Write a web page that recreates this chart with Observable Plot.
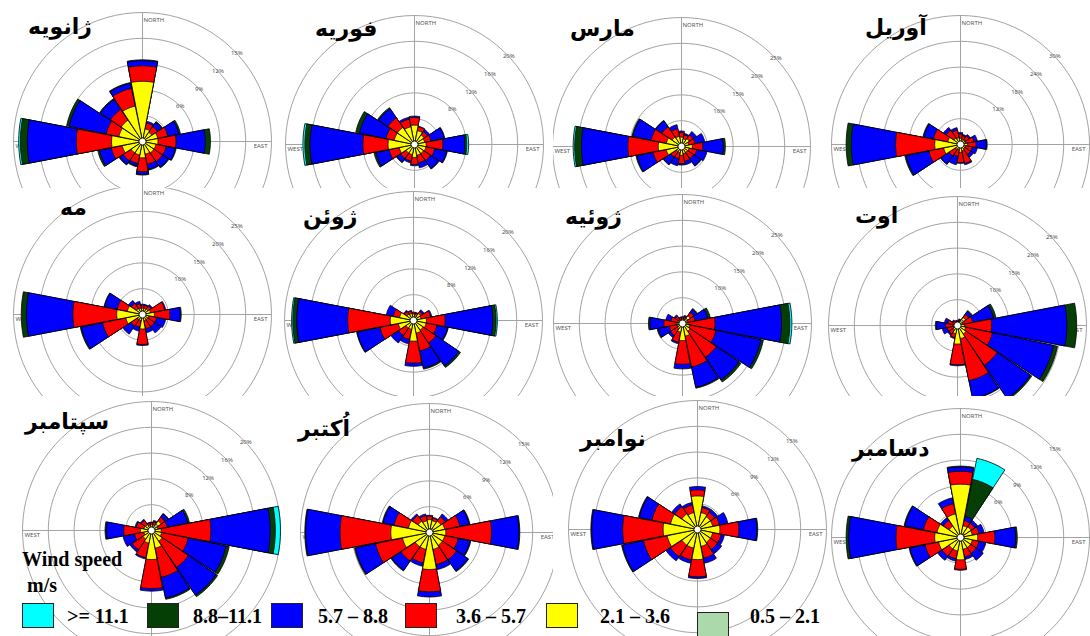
<!DOCTYPE html>
<html><head><meta charset="utf-8">
<script src="https://cdn.jsdelivr.net/npm/d3@7"></script>
<script src="https://cdn.jsdelivr.net/npm/@observablehq/plot@0.6"></script>
<style>
body{margin:0;background:#fff;}
#fig{position:relative;width:1090px;height:636px;overflow:hidden;background:#fff;}
.panel{position:absolute;overflow:hidden;}
.panel svg{position:absolute;max-width:none;}
.title{position:absolute;font-family:"DejaVu Sans",sans-serif;font-weight:bold;font-size:22px;line-height:1;direction:rtl;white-space:nowrap;color:#000;}
.leg{position:absolute;font-family:"Liberation Serif",serif;font-weight:bold;font-size:20px;line-height:1;white-space:nowrap;color:#000;}
.box{position:absolute;border:1.5px solid #222;box-sizing:border-box;}
</style></head><body><div id="fig"></div>
<script>
// ---------------- data ----------------
const months = ["ژانویه","فوریه","مارس","آوریل","مه","ژوئن","ژوئیه","اوت","سپتامبر","اُکتبر","نوامبر","دسامبر"];
const ringSteps = [3,4,5,6,5,4,5,5,4,3,3,3];          // % per ring
const directions = ["N","NNE","NE","ENE","E","ESE","SE","SSE","S","SSW","SW","WSW","W","WNW","NW","NNW"];
const speedBins = ["0.5 – 2.1","2.1 – 3.6","3.6 – 5.7","5.7 – 8.8","8.8–11.1",">= 11.1"];
const compass = ["NORTH","EAST","WEST"];
// frequency (%) per direction (N clockwise) per speed bin
const jan = [[0.3,6.7,1.8,0.6,0.1,0],[0.2,1.3,0.7,0.2,0,0],[0.3,1.0,0.8,0.6,0.1,0],[0.2,1.6,1.2,1.3,0.2,0],
  [0.2,1.6,2.1,3.4,0.6,0],[0.2,1.4,1.2,1.1,0.1,0],[0.2,1.4,1.2,0.8,0.1,0],[0.2,1.3,1.2,0.6,0.1,0],
  [0.2,1.7,1.6,0.3,0.1,0],[0.2,1.4,1.0,0.3,0.1,0],[0.2,1.4,1.1,0.5,0.1,0],[0.2,2.2,1.3,1.4,0.2,0],
  [0.4,3.2,4.1,5.7,0.8,0.2],[0.2,2.6,1.5,4.4,0.3,0],[0.2,2.8,1.5,1.4,0.1,0],[0.2,4.0,2.1,0.6,0.1,0]];
const feb = [[0.2,2.8,1.2,0.2,0,0],[0.2,2.0,0.6,0.1,0,0],[0.4,1.4,0.6,0.4,0,0],[0.2,1.4,1.0,2.1,0.1,0],
  [0.2,1.6,2.6,3.4,0.3,0.3],[0.2,1.6,1.4,1.9,0.1,0],[0.2,1.5,1.3,1.5,0.1,0],[0.2,1.5,1.2,0.8,0,0],
  [0.2,1.8,1.1,0.2,0,0],[0.2,1.4,1.0,0.3,0,0],[0.2,1.4,1.0,0.7,0.1,0],[0.2,2.2,1.6,2.1,0.3,0],
  [0.3,3.8,3.9,8.2,0.8,0.3],[0.2,3.0,1.3,4.2,0.6,0],[0.2,3.0,1.8,1.7,0.2,0],[0.2,2.6,1.2,0.3,0,0]];
const mar = [[0.2,1.6,0.9,0.3,0,0],[0.2,1.3,0.8,0.3,0,0],[0.6,1.2,0.9,0.8,0,0],[0.2,1.2,1.3,1.9,0,0],
  [0.2,1.9,2.0,4.0,0.4,0],[0.2,1.3,1.5,2.0,0,0],[0.2,1.2,1.4,1.7,0.1,0],[0.2,1.2,1.5,0.7,0,0],
  [0.2,1.5,1.6,0.3,0,0],[0.2,1.0,1.2,1.4,0,0],[0.2,1.0,1.3,1.7,0.1,0],[0.2,2.8,2.6,3.2,0.2,0],
  [0.3,4.2,5.9,9.0,1.3,0.3],[0.2,2.8,3.0,3.6,0.2,0],[0.2,2.0,2.4,1.4,0.1,0],[0.2,1.8,1.5,0.8,0,0]];
const apr = [[0.2,1.2,1.0,0.4,0,0],[0.2,1.0,0.9,0.3,0,0],[0.4,0.9,1.1,0.4,0,0],[0.2,1.0,2.0,0.8,0,0],
  [0.2,1.4,2.0,2.4,0.2,0],[0.2,1.0,1.6,1.2,0,0],[0.2,1.0,1.6,0.8,0,0],[0.2,1.3,3.0,0.3,0,0],
  [0.2,1.6,2.4,0.2,0,0],[0.2,1.0,1.6,2.0,0,0],[0.2,1.2,1.8,2.3,0.1,0],[0.2,3.8,3.5,5.4,0.3,0],
  [0.3,5.7,9.1,10.3,1.2,0],[0.2,2.8,3.4,2.3,0.2,0],[0.2,1.6,2.2,0.8,0,0],[0.2,1.4,1.8,0.6,0,0]];
const may = [[0.2,1.0,0.6,0.2,0,0],[0.2,1.0,0.6,0.2,0,0],[0.4,0.9,0.7,0.3,0,0],[0.2,1.4,2.8,0.2,0,0],
  [0.2,2.1,3.0,2.0,0.2,0],[0.2,1.0,1.6,1.8,0,0],[0.2,1.0,1.6,1.5,0,0],[0.2,1.0,1.6,0.8,0,0],
  [0.2,2.6,3.0,0.2,0,0],[0.2,1.0,1.3,0.8,0,0],[0.2,1.0,1.5,1.9,0,0],[0.2,3.1,4.6,4.2,0.2,0],
  [0.3,4.7,8.5,9.0,1.0,0],[0.2,2.8,2.0,2.5,0.1,0],[0.2,1.2,1.2,0.7,0,0],[0.2,1.0,0.9,0.5,0,0]];
const jun = [[0.2,0.8,0.3,0,0,0],[0.2,0.7,0.3,0.1,0,0],[0.8,0.5,0.4,0.3,0,0],[0.2,1.0,1.5,0.2,0,0],
  [0.2,1.8,2.9,7.4,0.5,0.2],[0.2,1.8,1.7,1.7,0.1,0],[0.2,1.6,2.4,4.3,0.3,0],[0.2,1.8,2.8,2.7,0.2,0],
  [0.2,3.0,3.4,0.5,0,0],[0.2,1.2,1.6,0.7,0,0],[0.2,1.2,1.4,1.4,0,0],[0.2,2.2,2.9,3.6,0.1,0],
  [0.3,3.3,6.6,7.9,0.6,0.2],[0.2,2.0,1.0,1.1,0,0],[0.2,1.0,0.5,0.2,0,0],[0.2,0.9,0.4,0.1,0,0]];
const jul = [[0.2,0.7,0.3,0.1,0,0],[0.2,0.6,0.5,0.3,0,0],[1.2,0.6,0.8,0.7,0.2,0],[0.2,0.8,1.5,2.5,0.5,0],
  [0.2,0.8,5.3,12.9,1.6,0.4],[0.2,1.2,5.2,8.9,0.5,0],[0.2,1.6,6.1,5.3,0.5,0],[0.2,2.3,6.1,4.0,0.2,0],
  [0.2,3.1,4.6,0.9,0,0],[0.2,1.5,2.0,0.3,0,0],[0.2,1.0,1.6,0.5,0,0],[0.2,0.8,1.6,2.2,0.2,0],
  [0.2,0.8,2.6,2.7,0.3,0],[0.2,0.7,1.4,1.0,0,0],[0.2,0.6,0.9,0.3,0,0],[0.2,0.5,0.5,0.1,0,0]];
const aug = [[0.2,0.5,0.3,0,0,0],[0.2,0.5,0.4,0.2,0,0],[1.4,0.5,0.7,0.7,0.2,0],[0.2,0.8,2.0,4.1,0.5,0],
  [0.2,1.1,5.3,14.6,1.9,0],[0.2,1.4,5.3,12.1,0.8,0],[0.2,1.8,7.3,7.8,0.3,0],[0.2,2.4,8.3,3.6,0.1,0],
  [0.2,3.4,4.0,0.2,0,0],[0.2,1.4,0.8,0.2,0,0],[0.2,0.8,1.0,0.3,0,0],[0.2,0.6,1.2,1.0,0,0],
  [0.2,0.6,1.5,1.8,0.2,0],[0.2,0.5,1.2,0.7,0,0],[0.2,0.4,0.5,0.2,0,0],[0.2,0.4,0.3,0.1,0,0]];
const sep = [[0.2,0.7,0.3,0.1,0,0],[0.2,0.7,0.5,0.2,0,0],[1.2,0.6,0.7,0.6,0.1,0],[0.2,0.8,1.5,3.2,0.3,0],
  [0.2,1.3,7.7,9.2,0.8,0.8],[0.2,1.4,4.2,6.0,0.5,0],[0.2,1.8,4.9,5.2,0.3,0],[0.2,2.6,4.6,3.3,0.2,0],
  [0.2,4.3,4.5,0.4,0,0],[0.2,1.8,2.3,0.2,0,0],[0.2,1.4,2.0,0.4,0,0],[0.2,1.0,1.5,1.8,0,0],
  [0.2,1.5,2.6,2.7,0.2,0],[0.2,1.0,1.2,0.2,0,0],[0.2,0.9,0.8,0.2,0,0],[0.2,0.6,0.4,0.1,0,0]];
const oct = [[0.2,1.3,0.4,0.1,0,0],[0.2,1.2,0.3,0.1,0,0],[0.6,1.0,0.6,0.4,0,0],[0.2,1.6,1.8,1.1,0.1,0],
  [0.2,1.7,5.3,3.2,0.1,0],[0.2,1.6,1.6,1.4,0.1,0],[0.2,1.6,2.0,1.6,0.1,0],[0.2,1.8,1.8,0.6,0,0],
  [0.2,4.1,2.6,0.6,0,0],[0.2,1.8,1.6,0.4,0,0],[0.2,1.8,2.0,1.3,0.1,0],[0.2,3.0,3.2,2.4,0.1,0],
  [0.2,4.3,5.9,4.0,0.1,0],[0.2,2.3,1.7,1.3,0.1,0],[0.2,1.4,0.8,0.2,0,0],[0.2,1.2,0.6,0.2,0,0]];
const nov = [[0.2,3.7,0.7,0.4,0,0],[0.2,1.8,0.6,0.2,0,0],[0.4,1.4,0.6,0.4,0,0],[0.2,1.6,0.8,1.0,0,0],
  [0.2,2.4,2.2,2.1,0.1,0],[0.2,1.6,1.0,0.4,0,0],[0.2,1.6,1.0,0.6,0,0],[0.2,1.8,1.4,0.6,0,0],
  [0.2,3.3,2.0,0.2,0,0],[0.2,2.0,1.4,0.4,0,0],[0.2,2.0,1.6,0.6,0,0],[0.2,3.4,2.8,2.5,0.1,0],
  [0.2,3.8,4.7,3.6,0.1,0],[0.2,3.0,2.2,1.5,0.1,0],[0.2,2.0,1.0,0.4,0,0],[0.2,1.8,0.9,0.3,0,0]];
const dec = [[0.2,6.0,1.5,0.5,0.1,0],[0.2,1.2,0.6,0.5,4.4,2.5],[0.5,1.0,0.5,0.4,0,0],[0.4,1.0,0.8,0.6,0,0],
  [0.2,1.8,2.0,2.4,0.2,0],[0.2,1.2,0.8,0.8,0,0],[0.2,1.2,0.8,1.0,0,0],[0.2,1.2,0.9,0.3,0,0],
  [0.2,2.4,1.1,0.1,0,0],[0.2,1.4,0.9,0.3,0,0],[0.2,1.4,1.0,0.6,0,0],[0.2,2.4,1.6,1.8,0.1,0],
  [0.2,2.8,4.5,5.5,0.3,0],[0.2,2.6,1.6,2.2,0.1,0],[0.2,1.4,0.8,0.4,0,0],[0.2,2.6,1.2,0.7,0,0]];
const monthData = [jan,feb,mar,apr,may,jun,jul,aug,sep,oct,nov,dec];

// ---------------- styles & layout ----------------
const binColors = ["#acd9ac","#ffff00","#ff0000","#0000ff","#063f06","#00ffff"];
const centers = [[142,141],[414,144],[681,146],[960,144],[142,314],[413,320],[682,323],[957,325],[151,530],[429,532],[697,529],[960,537]];
const colEdges = [0,282,553,828,1090];
const rowEdges = [0,188,396,636];
const titlePos = [[28,16],[315,18],[570,18],[865,17],[60,197],[303,206],[565,206],[855,205],[25,411],[298,418],[580,428],[852,438]];
const ringPx = 25.8, S = 272;

const fig = document.getElementById("fig");
const deg = Math.PI/180;
const half = S/2/ringPx;

function sector(dirIdx, r, id){
  const th = dirIdx*22.5, pts=[{id,x:0,y:0}];
  for(let i=0;i<=8;i++){const a=(th-10.8+21.6*i/8)*deg; pts.push({id,x:r*Math.sin(a),y:r*Math.cos(a)});}
  pts.push({id,x:0,y:0});
  return pts;
}

monthData.forEach((md, m) => {
  const step = ringSteps[m];
  const [cx, cy] = centers[m];
  const col = m%4, row = Math.floor(m/4);
  const x0 = colEdges[col], x1 = colEdges[col+1], y0 = rowEdges[row], y1 = rowEdges[row+1];

  const rings = [];
  for(let k=1;k<=5;k++) for(let a=0;a<=360;a+=4) rings.push({ring:k,x:k*Math.sin(a*deg),y:k*Math.cos(a*deg)});
  const ringLabels = [2,3,4,5].map(k => ({k, label: (k*step)+"%", x:k*Math.sin(47*deg), y:k*Math.cos(47*deg)}));
  const comp = [
    {t:compass[0],x:0,y:5,anchor:"start",dx:1,dy:8},
    {t:compass[1],x:5,y:0,anchor:"end",dx:-4,dy:5},
    {t:compass[2],x:-5,y:0,anchor:"start",dx:2,dy:5}];

  const marks = [
    Plot.line(rings,{x:"x",y:"y",z:"ring",stroke:"#a3a3a3",strokeWidth:1}),
    Plot.ruleX([0],{y1:-5,y2:5,stroke:"#a3a3a3"}),
    Plot.ruleY([0],{x1:-5,x2:5,stroke:"#a3a3a3"}),
    Plot.text(ringLabels,{x:"x",y:"y",text:"label",fontSize:6,fill:"#555"}),
    ...comp.map(c => Plot.text([c],{x:"x",y:"y",text:"t",textAnchor:c.anchor,dx:c.dx,dy:c.dy,fontSize:6,fill:"#555"}))
  ];
  for(let k=5;k>=0;k--){
    const pts = [];
    md.forEach((row, d) => {
      if(row[k] <= 0) return;
      const cum = d3.sum(row.slice(0,k+1));
      pts.push(...sector(d, cum/step, d));
    });
    marks.push(Plot.line(pts,{x:"x",y:"y",z:"id",fill:binColors[k],stroke:"#000",strokeWidth:0.8,strokeLinejoin:"miter"}));
  }
  marks.push(Plot.dot([{x:0,y:0}],{x:"x",y:"y",r:3.5,fill:"white",stroke:"#000",strokeWidth:0.8}));

  const svg = Plot.plot({width:S,height:S,margin:0,
    x:{domain:[-half,half],axis:null}, y:{domain:[-half,half],axis:null}, marks});
  svg.style.maxWidth = "none";
  const wrap = document.createElement("div");
  wrap.className = "panel";
  Object.assign(wrap.style,{left:x0+"px",top:y0+"px",width:(x1-x0)+"px",height:(y1-y0)+"px"});
  svg.style.left = (cx - S/2 - x0)+"px";
  svg.style.top = (cy - S/2 - y0)+"px";
  wrap.appendChild(svg);
  fig.appendChild(wrap);

  const t = document.createElement("div");
  t.className = "title";
  t.textContent = months[m];
  t.style.left = titlePos[m][0]+"px"; t.style.top = titlePos[m][1]+"px";
  fig.appendChild(t);
});

// ---------------- legend ----------------
function addText(txt, left, top){const d=document.createElement("div");d.className="leg";d.textContent=txt;d.style.left=left+"px";d.style.top=top+"px";fig.appendChild(d);}
addText("Wind speed", 22, 549);
addText("m/s", 27, 575);
const legOrder = [5,4,3,2,1,0];
const boxX = [22,147,271,405,546,697];
const txtX = [67,193,318,456,600,750];
const boxY = [603,603,603,603,603,612];
legOrder.forEach((k,i) => {
  const b = document.createElement("div");
  b.className = "box";
  Object.assign(b.style,{left:boxX[i]+"px",top:boxY[i]+"px",width:"32px",height:"25px",background:binColors[k]});
  fig.appendChild(b);
  addText(speedBins[k], txtX[i], 606);
});
</script></body></html>
